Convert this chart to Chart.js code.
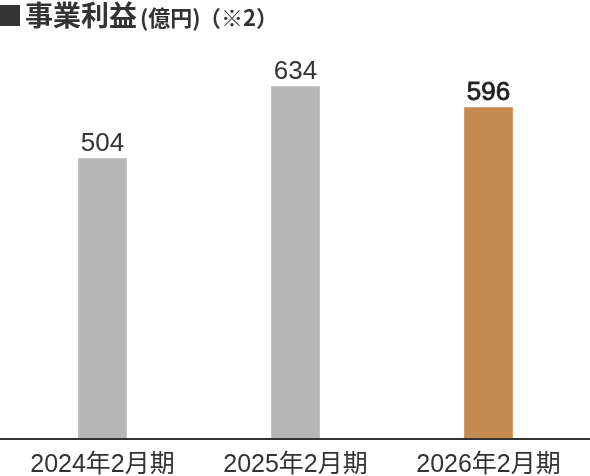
<!DOCTYPE html>
<html>
<head>
<meta charset="utf-8">
<script src="https://cdn.jsdelivr.net/npm/chart.js@4"></script>
<style>
  html, body { margin: 0; padding: 0; background: #fff; }
  #wrap { position: relative; width: 590px; height: 476px; }
  #title {
    position: absolute; left: 0; top: 0;
    font-family: "Noto Sans CJK JP", sans-serif; color: #333;
    white-space: nowrap; height: 32px;
  }
  #title span { position: absolute; top: 0; line-height: 32px; }
  #title .sq { left: 0; top: 5px; width: 20px; height: 21px; background: #333; }
  #title .big { left: 25px; top: -2px; font-size: 28px; font-weight: 700; }
  #title .unit { left: 140px; top: 0px; font-size: 22px; font-weight: 700; }
  #title .note { left: 199px; top: 0px; font-size: 22px; font-weight: 700; }
  canvas { position: absolute; left: 0; top: 0; }
</style>
</head>
<body>
<div id="wrap">
  <canvas id="profitChart" width="590" height="476"></canvas>
  <div id="title"><span class="sq"></span><span class="big">事業利益</span><span class="unit">(億円)</span><span class="note">（※2）</span></div>
</div>
<script>
const categories = ['2024年2月期', '2025年2月期', '2026年2月期'];
const profitValues = [504, 634, 596];
const barColors = ['#b5b6b5', '#b5b6b5', '#c48a4f'];
const yMax = 700;

// 棒の上に数値を描く
const valueLabels = {
  id: 'valueLabels',
  afterDatasetsDraw(chart) {
    const ctx = chart.ctx;
    const meta = chart.getDatasetMeta(0);
    ctx.save();
    ctx.textAlign = 'center';
    ctx.textBaseline = 'alphabetic';
    ctx.font = '26px "Liberation Sans", Arial, sans-serif';
    meta.data.forEach((bar, i) => {
      const last = i === meta.data.length - 1;
      ctx.fillStyle = last ? '#222' : '#333';
      ctx.fillText(String(profitValues[i]), bar.x, bar.y - 8);
      if (last) {
        // 少しだけ太く
        ctx.strokeStyle = '#222';
        ctx.lineWidth = 0.8;
        ctx.strokeText(String(profitValues[i]), bar.x, bar.y - 8);
      }
    });
    ctx.restore();
  }
};

// 横幅いっぱいの基準線
const baseLine = {
  id: 'baseLine',
  afterDatasetsDraw(chart) {
    const ctx = chart.ctx;
    const y = chart.scales.y.getPixelForValue(0);
    ctx.save();
    ctx.strokeStyle = '#333';
    ctx.lineWidth = 2;
    ctx.beginPath();
    ctx.moveTo(0, y + 1);
    ctx.lineTo(chart.width, y + 1);
    ctx.stroke();
    ctx.restore();
  }
};

new Chart(document.getElementById('profitChart'), {
  type: 'bar',
  data: {
    labels: categories,
    datasets: [{
      data: profitValues,
      backgroundColor: barColors,
      borderWidth: 0,
      barThickness: 48
    }]
  },
  options: {
    responsive: false,
    animation: false,
    layout: { padding: { top: 50, left: 6, right: 5, bottom: 0 } },
    plugins: { legend: { display: false }, tooltip: { enabled: false } },
    scales: {
      x: {
        grid: { display: false, drawTicks: false },
        border: { display: false },
        afterFit(scale) { scale.height = 38; },
        ticks: {
          color: '#333',
          padding: 15,
          font: { family: '"Liberation Sans", "Noto Sans CJK JP", sans-serif', size: 25, lineHeight: 1 }
        }
      },
      y: {
        display: false,
        min: 0,
        max: yMax
      }
    }
  },
  plugins: [valueLabels, baseLine]
});
</script>
</body>
</html>
